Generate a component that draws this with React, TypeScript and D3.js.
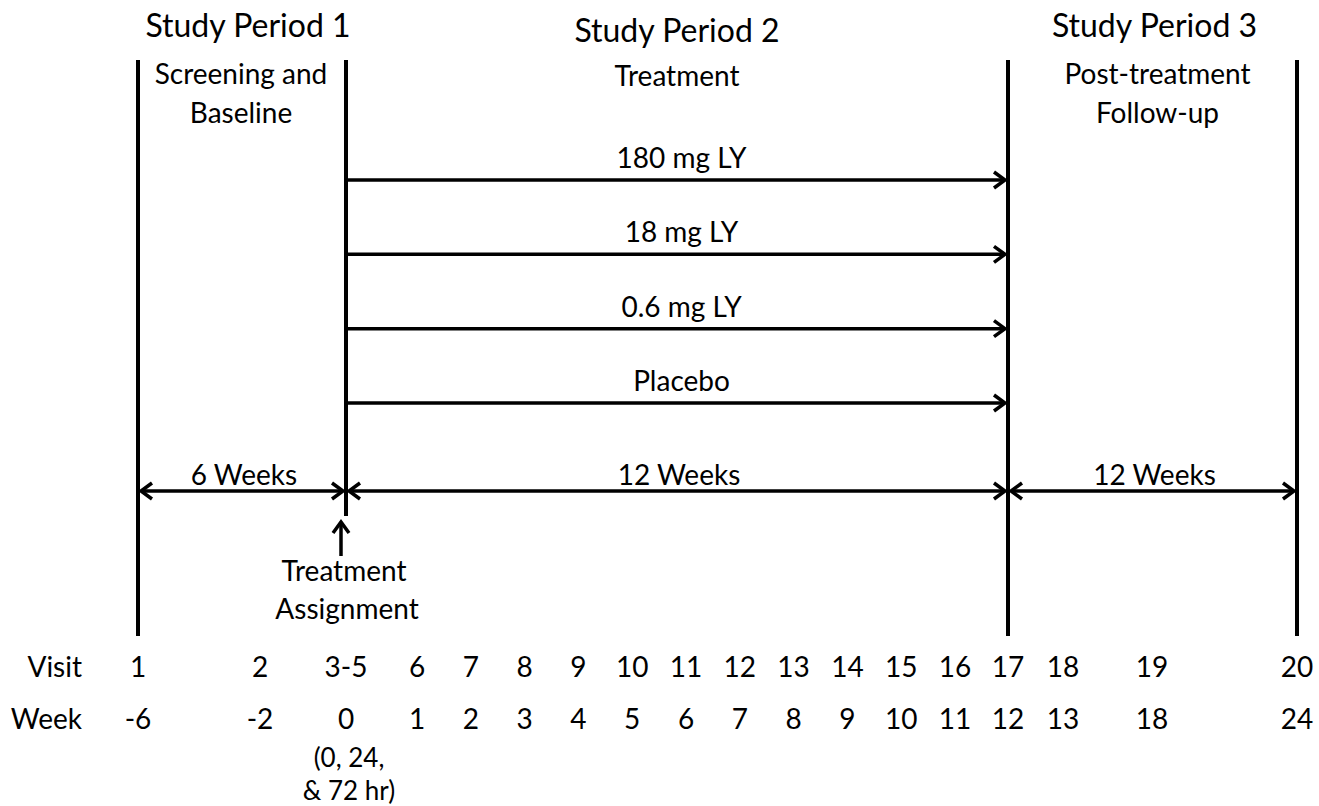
import * as d3 from 'd3';

// study schedule
const visits = ['1', '2', '3-5', '6', '7', '8', '9', '10', '11', '12', '13', '14', '15', '16', '17', '18', '19', '20'];
const weeks = [-6, -2, 0, 1, 2, 3, 4, 5, 6, 7, 8, 9, 10, 11, 12, 13, 18, 24];
const periodBounds = [-6, 0, 12, 24];
const periodTitles = ['Study Period 1', 'Study Period 2', 'Study Period 3'];
const periodSubtitles = [['Screening and', 'Baseline'], ['Treatment'], ['Post-treatment', 'Follow-up']];
const periodLengths = ['6 Weeks', '12 Weeks', '12 Weeks'];
const arms = ['180 mg LY', '18 mg LY', '0.6 mg LY', 'Placebo'];
const week0Note = ['(0, 24,', '& 72 hr)'];

const W = 1319;
const H = 806;
const FONT = 'Lato, "Open Sans", sans-serif';
const FS = 28;
const FS_TITLE = 32;

export default function App() {
  // piecewise week -> x, the label columns are not strictly proportional
  const x = d3
    .scaleLinear()
    .domain([-6, -2, 0, 1, 11, 12, 13, 18, 24])
    .range([138, 260, 346, 417, 955, 1008, 1063, 1152, 1297]);

  const armY = d3.scalePoint<string>().domain(arms).range([180, 403]);

  const lineTop = 60;
  const lineBottom = 636;
  const week0Bottom = 516;
  const spanY = 491;
  const sw = 3.5;

  const chevron = (tx: number, ty: number, dir: 'left' | 'right' | 'up') => {
    const l = 11, h = 8;
    if (dir === 'right') return `M${tx - l},${ty - h}L${tx},${ty}L${tx - l},${ty + h}`;
    if (dir === 'left') return `M${tx + l},${ty - h}L${tx},${ty}L${tx + l},${ty + h}`;
    return `M${tx - h},${ty + l}L${tx},${ty}L${tx + h},${ty + l}`;
  };

  const periods = periodTitles.map((t, i) => ({
    title: t,
    sub: periodSubtitles[i],
    len: periodLengths[i],
    x0: x(periodBounds[i]),
    x1: x(periodBounds[i + 1]),
  }));

  return (
    <svg
      width={W}
      height={H}
      style={{ position: 'absolute', left: 0, top: 0, display: 'block', background: '#fff' }}
      fontFamily={FONT}
      fill="#000"
    >
      {/* period titles */}
      {periods.map((p, i) => (
        <g key={p.title}>
          <text
            x={(p.x0 + p.x1) / 2 + (i === 0 ? 6 : i === 2 ? 2 : 0)}
            y={i === 1 ? 42 : 37}
            textAnchor="middle"
            fontSize={FS_TITLE}
          >
            {p.title}
          </text>
          {p.sub.map((s, j) => (
            <text
              key={s}
              x={(p.x0 + p.x1) / 2 + (i === 0 ? -1 : i === 2 ? 5 : 0)}
              y={84 + j * 39 + (i === 1 ? 2 : 0)}
              textAnchor="middle"
              fontSize={FS}
            >
              {s}
            </text>
          ))}
        </g>
      ))}

      {/* period boundaries */}
      {periodBounds.map((w) => (
        <line
          key={w}
          x1={x(w)}
          x2={x(w)}
          y1={lineTop}
          y2={w === 0 ? week0Bottom : lineBottom}
          stroke="#000"
          strokeWidth={4}
        />
      ))}

      {/* treatment arms */}
      {arms.map((a) => {
        const y = armY(a) as number;
        const x0 = x(0);
        const x1 = x(12) - 3;
        return (
          <g key={a}>
            <text x={(x0 + x1) / 2 + 6} y={y - 12} textAnchor="middle" fontSize={FS}>
              {a}
            </text>
            <line x1={x0} x2={x1} y1={y} y2={y} stroke="#000" strokeWidth={sw} />
            <path d={chevron(x1, y, 'right')} fill="none" stroke="#000" strokeWidth={sw} />
          </g>
        );
      })}

      {/* period lengths */}
      {periods.map((p, i) => {
        const a = p.x0 + 3;
        const b = p.x1 - 3;
        return (
          <g key={'len' + i}>
            <text x={(a + b) / 2 + 2} y={spanY - 6} textAnchor="middle" fontSize={FS}>
              {p.len}
            </text>
            <line x1={a} x2={b} y1={spanY} y2={spanY} stroke="#000" strokeWidth={sw} />
            <path d={chevron(a, spanY, 'left')} fill="none" stroke="#000" strokeWidth={sw} />
            <path d={chevron(b, spanY, 'right')} fill="none" stroke="#000" strokeWidth={sw} />
          </g>
        );
      })}

      {/* treatment assignment */}
      <g>
        <line x1={x(0) - 5} x2={x(0) - 5} y1={556} y2={522} stroke="#000" strokeWidth={sw} />
        <path d={chevron(x(0) - 5, 522, 'up')} fill="none" stroke="#000" strokeWidth={sw} />
        <text x={x(0) - 2} y={581} textAnchor="middle" fontSize={FS}>
          Treatment
        </text>
        <text x={x(0) + 1} y={619} textAnchor="middle" fontSize={FS}>
          Assignment
        </text>
      </g>

      {/* visit / week table */}
      <text x={82} y={677} textAnchor="end" fontSize={FS}>
        Visit
      </text>
      <text x={82} y={729} textAnchor="end" fontSize={FS}>
        Week
      </text>
      {visits.map((v, i) => (
        <text key={'v' + v} x={x(weeks[i])} y={677} textAnchor="middle" fontSize={FS}>
          {v}
        </text>
      ))}
      {weeks.map((w) => (
        <text key={'w' + w} x={x(w)} y={729} textAnchor="middle" fontSize={FS}>
          {w}
        </text>
      ))}
      {week0Note.map((s, j) => (
        <text key={s} x={x(0) + 3} y={767 + j * 33} textAnchor="middle" fontSize={26}>
          {s}
        </text>
      ))}
    </svg>
  );
}
